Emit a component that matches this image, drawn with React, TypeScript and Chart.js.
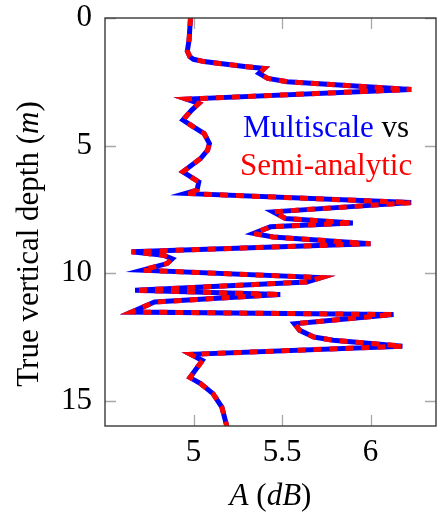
import React, { useEffect, useRef } from 'react';
import { Chart, registerables } from 'chart.js';

Chart.register(...registerables);

// Depth (m) along the well and amplitude A (dB)
const depth = [
  0, 0.86, 1.3, 1.52, 1.62, 1.71, 1.91, 1.98, 2.17, 2.37, 2.5, 2.8,
  3.18, 3.35, 3.61, 4.0, 4.27, 4.53, 4.92, 5.18, 5.51, 6.03, 6.43, 6.75, 6.88,
  7.24, 7.6, 7.86, 8.04, 8.19, 8.45, 8.59, 8.85,
  9.17, 9.3, 9.44, 9.63, 9.89, 10.18, 10.35, 10.68, 10.84, 11.14, 11.53,
  11.63, 11.99, 12.25, 12.51, 12.64, 12.77, 12.87,
  13.19, 13.43, 14.1, 14.34, 14.73, 15.26, 16.05,
];
const multiscale = [
  4.983, 4.975, 4.965, 4.98, 5.0, 5.06, 5.3, 5.4, 5.37, 5.42, 5.53, 6.23,
  4.96, 5.03, 4.99, 4.94, 5.0, 5.06, 5.09, 5.08, 5.04, 4.94, 5.03, 5.02, 4.955,
  6.23, 5.45, 5.52, 5.9, 5.435, 5.34, 5.45, 6.0,
  4.65, 4.83, 4.88, 4.85, 4.71, 5.72, 5.64, 4.67, 5.49, 4.78, 4.65,
  6.13, 5.57, 5.6, 5.68, 5.79, 6.02, 6.18,
  4.985, 5.05, 4.98, 5.04, 5.11, 5.16, 5.19,
];
const semiAnalytic = [
  4.983, 4.975, 4.965, 4.98, 5.0, 5.06, 5.3, 5.4, 5.37, 5.42, 5.53, 6.23,
  4.96, 5.03, 4.99, 4.94, 5.0, 5.06, 5.09, 5.08, 5.04, 4.94, 5.03, 5.02, 4.955,
  6.23, 5.45, 5.52, 5.9, 5.435, 5.34, 5.45, 6.0,
  4.65, 4.83, 4.88, 4.85, 4.71, 5.72, 5.64, 4.67, 5.49, 4.78, 4.65,
  6.13, 5.57, 5.6, 5.68, 5.79, 6.02, 6.18,
  4.985, 5.05, 4.98, 5.04, 5.11, 5.16, 5.19,
];
const xTicks = [5, 5.5, 6];
const yTicks = [0, 5, 10, 15];

const F_NORMAL = '31px "Liberation Serif"';
const F_ITALIC = 'italic 31px "Liberation Serif"';

type Seg = { t: string; it?: boolean; c?: string };

function drawSegs(ctx: CanvasRenderingContext2D, segs: Seg[], x: number, y: number, align: 'left' | 'center') {
  let total = 0;
  const widths = segs.map((s) => {
    ctx.font = s.it ? F_ITALIC : F_NORMAL;
    const w = ctx.measureText(s.t).width;
    total += w;
    return w;
  });
  let cx = align === 'center' ? x - total / 2 : x;
  segs.forEach((s, i) => {
    ctx.font = s.it ? F_ITALIC : F_NORMAL;
    ctx.fillStyle = s.c || '#000';
    ctx.textAlign = 'left';
    ctx.textBaseline = 'alphabetic';
    ctx.fillText(s.t, cx, y);
    cx += widths[i];
  });
}

export default function App() {
  const ref = useRef<HTMLCanvasElement>(null);
  useEffect(() => {
    const canvas = ref.current!;
    const pts = (arr: number[]) => arr.map((x, i) => ({ x, y: depth[i] }));

    const frame = {
      id: 'frame',
      afterDraw(c: any) {
        const { ctx, chartArea: a } = c;
        const xs = c.scales.x;
        const ys = c.scales.y;
        ctx.save();
        ctx.strokeStyle = '#a8a8a8';
        ctx.lineWidth = 1.3;
        const L = 11;
        ctx.beginPath();
        xTicks.forEach((v) => {
          const p = Math.round(xs.getPixelForValue(v)) + 0.5;
          ctx.moveTo(p, a.bottom);
          ctx.lineTo(p, a.bottom - L);
          ctx.moveTo(p, a.top);
          ctx.lineTo(p, a.top + L);
        });
        yTicks.forEach((v) => {
          const p = Math.round(ys.getPixelForValue(v)) + 0.5;
          ctx.moveTo(a.left, p);
          ctx.lineTo(a.left + L, p);
          ctx.moveTo(a.right, p);
          ctx.lineTo(a.right - L, p);
        });
        ctx.stroke();
        ctx.strokeStyle = '#3a3a3a';
        ctx.lineWidth = 1.4;
        ctx.strokeRect(a.left, a.top, a.right - a.left, a.bottom - a.top);
        drawSegs(ctx, [{ t: 'Multiscale', c: '#0000ff' }, { t: ' vs', c: '#000' }], 243, 137, 'left');
        drawSegs(ctx, [{ t: 'Semi-analytic', c: '#ff0000' }], 240, 175, 'left');
        drawSegs(ctx, [{ t: 'A', it: true }, { t: ' (' }, { t: 'dB', it: true }, { t: ')' }], (a.left + a.right) / 2, 505, 'center');
        ctx.translate(38, 244);
        ctx.rotate(-Math.PI / 2);
        drawSegs(ctx, [{ t: 'True vertical depth (' }, { t: 'm', it: true }, { t: ')' }], 0, 0, 'center');
        ctx.restore();
      },
    };

    const chart = new Chart(canvas, {
      type: 'scatter',
      data: {
        datasets: [
          {
            label: 'Semi-analytic',
            data: pts(semiAnalytic),
            showLine: true,
            borderColor: '#ff0000',
            backgroundColor: '#ff0000',
            borderWidth: 5,
            borderDash: [8, 8],
            borderCapStyle: 'butt',
            pointRadius: 0,
            borderJoinStyle: 'miter',
            tension: 0,
            order: 1,
          },
          {
            label: 'Multiscale',
            data: pts(multiscale),
            showLine: true,
            borderColor: '#0000ff',
            backgroundColor: '#0000ff',
            borderWidth: 5,
            pointRadius: 0,
            borderJoinStyle: 'miter',
            tension: 0,
            order: 2,
          },
        ],
      },
      options: {
        responsive: false,
        animation: false,
        font: { family: 'Liberation Serif' },
        layout: { padding: { top: 18, right: 1, left: 0, bottom: 0 } },
        plugins: { legend: { display: false }, tooltip: { enabled: false } },
        scales: {
          x: {
            type: 'linear',
            min: 4.5,
            max: 6.37,
            afterFit: (s: any) => {
              s.height = 90;
              s.paddingLeft = 0;
              s.paddingRight = 0;
            },
            afterBuildTicks: (s: any) => {
              s.ticks = xTicks.map((v) => ({ value: v }));
            },
            grid: { display: false, drawTicks: false },
            border: { display: false },
            ticks: {
              font: { family: 'Liberation Serif', size: 31 },
              color: '#000',
              padding: 8,
              maxRotation: 0,
              autoSkip: false,
              callback: (v: any) => String(v),
            },
          },
          y: {
            type: 'linear',
            reverse: true,
            min: 0,
            max: 16,
            afterFit: (s: any) => {
              s.width = 105;
              s.paddingTop = 0;
              s.paddingBottom = 0;
            },
            afterBuildTicks: (s: any) => {
              s.ticks = yTicks.map((v) => ({ value: v }));
            },
            grid: { display: false, drawTicks: false },
            border: { display: false },
            ticks: {
              font: { family: 'Liberation Serif', size: 31 },
              color: '#000',
              padding: 13,
              autoSkip: false,
              callback: (v: any) => String(v),
            },
          },
        },
      },
      plugins: [frame],
    });

    return () => chart.destroy();
  }, []);
  return (
    <div style={{ position: 'fixed', left: 0, top: 0, width: 437, height: 516, background: '#fff' }}>
      <canvas ref={ref} width={437} height={516} style={{ display: 'block' }} />
    </div>
  );
}
